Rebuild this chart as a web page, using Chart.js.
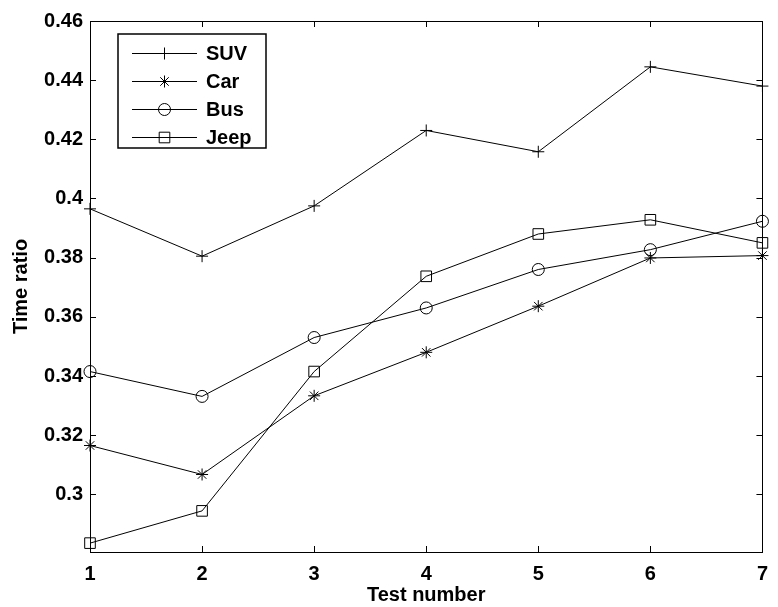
<!DOCTYPE html>
<html>
<head>
<meta charset="utf-8">
<script src="https://cdn.jsdelivr.net/npm/chart.js@4.4.1/dist/chart.umd.min.js"></script>
<style>
  html, body { margin: 0; padding: 0; background: #fff; }
  #graphCanvas { display: block; }
</style>
</head>
<body>
<canvas id="graphCanvas" width="778" height="607"></canvas>
<script>
// ---- data ----
const testNumbers = [1, 2, 3, 4, 5, 6, 7];
const suv  = [0.3965, 0.3805, 0.3975, 0.4230, 0.4158, 0.4445, 0.4380];
const car  = [0.3165, 0.3067, 0.3333, 0.3480, 0.3636, 0.3799, 0.3807];
const bus  = [0.3415, 0.3331, 0.3530, 0.3630, 0.3760, 0.3827, 0.3923];
const jeep = [0.2835, 0.2944, 0.3415, 0.3737, 0.3880, 0.3928, 0.3850];

const xTicks = [1, 2, 3, 4, 5, 6, 7];
const yTicks = [0.30, 0.32, 0.34, 0.36, 0.38, 0.40, 0.42, 0.44, 0.46];
const yMin = 0.2805, yMax = 0.46;

const FONT = "'Liberation Sans', Arial, sans-serif";
const ctx = document.getElementById("graphCanvas").getContext("2d");

function series(label, values, pointStyle, radius) {
    return {
        label,
        data: testNumbers.map((x, i) => ({ x, y: values[i] })),
        borderColor: "#000",
        borderWidth: 1,
        pointStyle,
        pointRadius: radius,
        pointBorderColor: "#000",
        pointBackgroundColor: "rgba(0,0,0,0)",
        pointBorderWidth: 1,
        tension: 0,
        fill: false,
        clip: false
    };
}

// frame with inward ticks on all four sides (MATLAB style box)
const framePlugin = {
    id: "frame",
    afterDatasetsDraw(chart) {
        const { ctx, chartArea: a, scales } = chart;
        const len = 6;
        ctx.save();
        ctx.strokeStyle = "#000";
        ctx.lineWidth = 1;
        ctx.strokeRect(Math.round(a.left) + 0.5, Math.round(a.top) + 0.5,
            Math.round(a.right - a.left), Math.round(a.bottom - a.top));
        ctx.beginPath();
        xTicks.forEach(v => {
            const px = Math.round(scales.x.getPixelForValue(v)) + 0.5;
            ctx.moveTo(px, a.bottom); ctx.lineTo(px, a.bottom - len);
            ctx.moveTo(px, a.top); ctx.lineTo(px, a.top + len);
        });
        yTicks.forEach(v => {
            const py = Math.round(scales.y.getPixelForValue(v)) + 0.5;
            ctx.moveTo(a.left, py); ctx.lineTo(a.left + len, py);
            ctx.moveTo(a.right, py); ctx.lineTo(a.right - len, py);
        });
        ctx.stroke();
        ctx.restore();
    }
};

// boxed legend in the upper-left corner of the plot
const legendPlugin = {
    id: "boxLegend",
    afterDraw(chart) {
        const { ctx } = chart;
        const box = { x: 118, y: 34, w: 148, h: 114 };
        const rowY = [53, 81, 109, 137];
        ctx.save();
        ctx.fillStyle = "#fff";
        ctx.fillRect(box.x, box.y, box.w, box.h);
        ctx.strokeStyle = "#000";
        ctx.lineWidth = 1.5;
        ctx.strokeRect(box.x, box.y, box.w, box.h);
        chart.data.datasets.forEach((ds, i) => {
            const y = rowY[i] + 0.5;
            ctx.lineWidth = 1;
            ctx.beginPath();
            ctx.moveTo(132, y); ctx.lineTo(197, y);
            ctx.stroke();
            ctx.fillStyle = "rgba(0,0,0,0)";
            Chart.helpers.drawPoint(ctx, {
                pointStyle: ds.pointStyle, radius: ds.pointRadius, rotation: 0, borderWidth: 1
            }, 164.5, y);
            ctx.fillStyle = "#000";
            ctx.font = "bold 20px " + FONT;
            ctx.textBaseline = "middle";
            ctx.textAlign = "left";
            ctx.fillText(ds.label, 206, rowY[i] + 1);
        });
        ctx.restore();
    }
};

new Chart(ctx, {
    type: "line",
    data: {
        datasets: [
            series("SUV", suv, "cross", 6),
            series("Car", car, "star", 6),
            series("Bus", bus, "circle", 6),
            series("Jeep", jeep, "rect", 7.5)
        ]
    },
    options: {
        responsive: false,
        animation: false,
        events: [],
        layout: { padding: { left: 0, right: 10, top: 21, bottom: 0 } },
        scales: {
            x: {
                type: "linear",
                min: 1,
                max: 7,
                grid: { display: false, drawTicks: false },
                border: { display: false },
                afterBuildTicks: s => { s.ticks = xTicks.map(v => ({ value: v })); },
                afterFit: s => { s.height = 55; },
                ticks: {
                    color: "#000",
                    padding: 10,
                    maxRotation: 0,
                    font: { family: FONT, size: 20, weight: "bold" },
                    callback: v => String(v)
                },
                title: {
                    display: true,
                    text: "Test number",
                    color: "#000",
                    padding: { top: 0, bottom: 0 },
                    font: { family: FONT, size: 20, weight: "bold" }
                }
            },
            y: {
                type: "linear",
                min: yMin,
                max: yMax,
                grid: { display: false, drawTicks: false },
                border: { display: false },
                afterBuildTicks: s => { s.ticks = yTicks.map(v => ({ value: v })); },
                afterFit: s => { s.width = 90; },
                ticks: {
                    color: "#000",
                    padding: 7,
                    font: { family: FONT, size: 20, weight: "bold" },
                    callback: v => String(Number(v.toFixed(2)))
                },
                title: {
                    display: true,
                    text: "Time ratio",
                    color: "#000",
                    padding: { top: 9, bottom: 0 },
                    font: { family: FONT, size: 20, weight: "bold" }
                }
            }
        },
        plugins: {
            legend: { display: false },
            tooltip: { enabled: false }
        }
    },
    plugins: [framePlugin, legendPlugin]
});
</script>
</body>
</html>
